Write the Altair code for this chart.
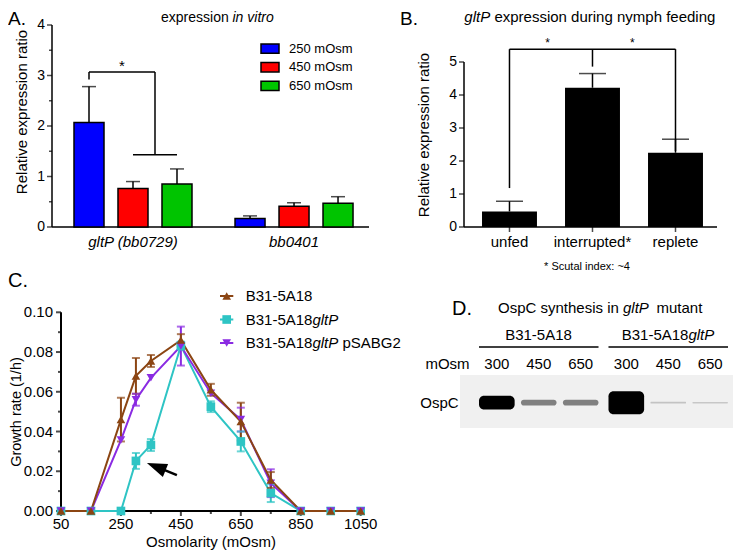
import json
import altair as alt
import pandas as pd

FONT = "Liberation Sans"
W, H = 725, 542
M = 8


def P(v):
    return v - M


# ---------------- Panel A data ----------------
genes_A = ["gltP (bb0729)", "bb0401"]
conds_A = ["250 mOsm", "450 mOsm", "650 mOsm"]
colors_A = ["#0000ff", "#ff0000", "#00c400"]
mean_A_gltP = [2.07, 0.76, 0.85]
sem_A_gltP = [0.71, 0.14, 0.30]
mean_A_bb0401 = [0.17, 0.41, 0.47]
sem_A_bb0401 = [0.05, 0.07, 0.13]
ticks_A = [0, 1, 2, 3, 4]
minor_A = [0.5, 1.5, 2.5, 3.5]
brA_x1 = [0, 0, 1.5, 1]
brA_y1 = [2.92, 3.07, 3.07, 1.43]
brA_x2 = [0, 1.5, 1.5, 2]
brA_y2 = [3.07, 3.07, 1.43, 1.43]
starA_x = [0.75]
starA_y = [3.09]

# ---------------- Panel B data ----------------
cats_B = ["unfed", "interrupted*", "replete"]
mean_B = [0.47, 4.22, 2.25]
sem_B = [0.31, 0.43, 0.41]
ticks_B = [0, 1, 2, 3, 4, 5]
brB_x1 = [0, 0, 1, 2]
brB_y1 = [1.18, 5.39, 5.39, 5.39]
brB_x2 = [0, 2, 1, 2]
brB_y2 = [5.39, 5.39, 4.86, 2.30]
starB_x = [0.46, 1.48]
starB_y = [5.45, 5.45]

# ---------------- Panel C data ----------------
osm_C = [50, 150, 250, 300, 350, 450, 550, 650, 750, 850, 950, 1050]
series_C = ["B31-5A18", "B31-5A18gltP", "B31-5A18gltP pSABG2"]
colors_C = ["#8B4513", "#2EC4C4", "#8A2BE2"]
shapes_C = ["triangle-up", "square", "triangle-down"]
mean_wt = [0, 0, 0.046, 0.068, 0.0755, 0.086, 0.061, 0.045, 0.0156, 0, 0, 0]
sem_wt = [0, 0, 0.011, 0.009, 0.003, 0.003, 0.003, 0.0095, 0.004, 0, 0, 0]
mean_mut = [0, 0, 0, 0.0252, 0.0332, 0.0832, 0.0525, 0.035, 0.009, 0, 0, 0]
sem_mut = [0, 0, 0, 0.004, 0.003, 0.002, 0.0027, 0.005, 0.0045, 0, 0, 0]
mean_comp = [0, 0, 0.0357, 0.056, 0.067, 0.083, 0.0593, 0.046, 0.014, 0, 0, 0]
sem_comp = [0, 0, 0, 0.003, 0, 0.0098, 0, 0.006, 0.007, 0, 0, 0]
xticks_C = [50, 250, 450, 650, 850, 1050]
xminor_C = [150, 350, 550, 750, 950]
yticks_C = [0.0, 0.02, 0.04, 0.06, 0.08, 0.10]
yminor_C = [0.01, 0.03, 0.05, 0.07, 0.09]
arrow_tail = [436.7, 0.0181]
arrow_head = [367.7, 0.0223]

# ---------------- Panel D data ----------------
strains_D = ["B31-5A18", "B31-5A18gltP"]
osm_D = ["300", "450", "650"]
signal_D = [[0.6, 0.25, 0.25], [1.0, 0.08, 0.07]]


# ---------------- helpers: hand-made axes through the panel scales ----------------
def x_axis(xs, ys, lo, hi, y0, major, minor, labels, tlen, mlen, lw, lab_dy, fsize, style="normal"):
    out = [alt.Chart(pd.DataFrame({"a": [lo], "b": [hi], "y": [y0]})).mark_rule(
        color="black", strokeWidth=lw).encode(
        x=alt.X("a:Q", scale=xs, axis=None), x2="b:Q", y=alt.Y("y:Q", scale=ys, axis=None))]
    if tlen:
        out.append(alt.Chart(pd.DataFrame({"v": major, "y": [y0] * len(major)})).mark_tick(
            orient="vertical", size=tlen, thickness=lw, color="black", yOffset=tlen / 2).encode(
            x=alt.X("v:Q", scale=xs, axis=None), y=alt.Y("y:Q", scale=ys, axis=None)))
    if minor:
        out.append(alt.Chart(pd.DataFrame({"v": minor, "y": [y0] * len(minor)})).mark_tick(
            orient="vertical", size=mlen, thickness=lw, color="black", yOffset=mlen / 2).encode(
            x=alt.X("v:Q", scale=xs, axis=None), y=alt.Y("y:Q", scale=ys, axis=None)))
    out.append(alt.Chart(pd.DataFrame({"v": major, "t": labels, "y": [y0] * len(major)})).mark_text(
        font=FONT, fontSize=fsize, fontStyle=style, baseline="alphabetic", dy=lab_dy, color="black").encode(
        x=alt.X("v:Q", scale=xs, axis=None), y=alt.Y("y:Q", scale=ys, axis=None), text="t:N"))
    return out


def y_axis(xs, ys, x0, lo, hi, major, minor, labels, tlen, mlen, lw, lab_dx, fsize):
    out = [alt.Chart(pd.DataFrame({"a": [lo], "b": [hi], "x": [x0]})).mark_rule(
        color="black", strokeWidth=lw).encode(
        y=alt.Y("a:Q", scale=ys, axis=None), y2="b:Q", x=alt.X("x:Q", scale=xs, axis=None))]
    out.append(alt.Chart(pd.DataFrame({"v": major, "x": [x0] * len(major)})).mark_tick(
        orient="horizontal", size=tlen, thickness=lw, color="black", xOffset=-tlen / 2).encode(
        y=alt.Y("v:Q", scale=ys, axis=None), x=alt.X("x:Q", scale=xs, axis=None)))
    if minor:
        out.append(alt.Chart(pd.DataFrame({"v": minor, "x": [x0] * len(minor)})).mark_tick(
            orient="horizontal", size=mlen, thickness=lw, color="black", xOffset=-mlen / 2).encode(
            y=alt.Y("v:Q", scale=ys, axis=None), x=alt.X("x:Q", scale=xs, axis=None)))
    out.append(alt.Chart(pd.DataFrame({"v": major, "t": labels, "x": [x0] * len(major)})).mark_text(
        font=FONT, fontSize=fsize, align="right", baseline="middle", dx=lab_dx, color="black").encode(
        y=alt.Y("v:Q", scale=ys, axis=None), x=alt.X("x:Q", scale=xs, axis=None), text="t:N"))
    return out


def T(s, x, y, size=15, align="left", style="normal", angle=0, baseline="alphabetic"):
    return alt.Chart(pd.DataFrame({"t": [s]})).mark_text(
        font=FONT, fontSize=size, align=align, baseline=baseline, fontStyle=style, color="black",
        angle=angle).encode(text="t:N", x=alt.value(P(x)), y=alt.value(P(y)))


# ================= Panel A =================
GROUP_A = 3.66
rowsA = []
for gi, (g, ms, ss) in enumerate(zip(genes_A, [mean_A_gltP, mean_A_bb0401], [sem_A_gltP, sem_A_bb0401])):
    for ci, c in enumerate(conds_A):
        rowsA.append(dict(gene=g, cond=c, gi=gi, ci=ci, mean=ms[ci], sem=ss[ci]))
dfA = pd.DataFrame(rowsA)

XA_MIN, XA_MAX = -0.841, 6.364
xA = alt.Scale(domain=[XA_MIN, XA_MAX], range=[P(52), P(369)], nice=False, zero=False)
yA = alt.Scale(domain=[0, 4], range=[P(227), P(25)], nice=False, zero=False)

baseA = alt.Chart(dfA).transform_calculate(
    slot=f"datum.gi * {GROUP_A} + datum.ci"
).transform_calculate(lo="datum.slot - 0.341", hi="datum.slot + 0.341", top="datum.mean + datum.sem")

barsA = baseA.mark_rect(stroke="black", strokeWidth=1.5).encode(
    x=alt.X("lo:Q", scale=xA, axis=None), x2="hi:Q",
    y=alt.Y("mean:Q", scale=yA, axis=None), y2=alt.datum(0),
    color=alt.Color("cond:N", scale=alt.Scale(domain=conds_A, range=colors_A), legend=None),
)
errA = baseA.mark_rule(color="black", strokeWidth=1.5).encode(
    x=alt.X("slot:Q", scale=xA, axis=None), y=alt.Y("mean:Q", scale=yA, axis=None), y2="top:Q")
capA = baseA.mark_tick(orient="horizontal", size=14, thickness=1.5, color="black").encode(
    x=alt.X("slot:Q", scale=xA, axis=None), y=alt.Y("top:Q", scale=yA, axis=None))
brA = alt.Chart(pd.DataFrame(dict(x1=brA_x1, y1=brA_y1, x2=brA_x2, y2=brA_y2))).mark_rule(
    color="black", strokeWidth=1.5).encode(
    x=alt.X("x1:Q", scale=xA, axis=None), x2="x2:Q",
    y=alt.Y("y1:Q", scale=yA, axis=None), y2="y2:Q")
stA = alt.Chart(pd.DataFrame(dict(x=starA_x, y=starA_y, t=["*"] * len(starA_x)))).mark_text(
    font=FONT, fontSize=15, baseline="alphabetic").encode(
    x=alt.X("x:Q", scale=xA, axis=None), y=alt.Y("y:Q", scale=yA, axis=None), text="t:N")
gene_pos = [gi * GROUP_A + 1 for gi in range(len(genes_A))]
axesA = (x_axis(xA, yA, XA_MIN, XA_MAX, 0, gene_pos, [], genes_A, 0, 0, 1.5, 20, 15, style="italic")
         + y_axis(xA, yA, XA_MIN, 0, 4, ticks_A, minor_A, [str(v) for v in ticks_A], 5, 3, 1.5, -7, 14))
panelA = alt.layer(*axesA, barsA, errA, capA, brA, stA)

legA_y = alt.Scale(type="band", domain=conds_A, range=[P(44), P(90.5)], paddingInner=0.5, paddingOuter=0)
dfLegA = pd.DataFrame({"cond": conds_A})
legA = alt.layer(
    alt.Chart(dfLegA).mark_rect(stroke="black", strokeWidth=1.5).encode(
        x=alt.value(P(261)), x2=alt.value(P(279)),
        y=alt.Y("cond:N", scale=legA_y, axis=None),
        color=alt.Color("cond:N", scale=alt.Scale(domain=conds_A, range=colors_A), legend=None)),
    alt.Chart(dfLegA).mark_text(font=FONT, fontSize=13, align="left", baseline="middle").encode(
        x=alt.value(P(289)), y=alt.Y("cond:N", scale=legA_y, axis=None), text="cond:N"),
)

# ================= Panel B =================
dfB = pd.DataFrame(dict(cat=cats_B, idx=list(range(len(cats_B))), mean=mean_B, sem=sem_B))
XB_MIN, XB_MAX = -0.548, 2.5
xB = alt.Scale(domain=[XB_MIN, XB_MAX], range=[P(464), P(717)], nice=False, zero=False)
yB = alt.Scale(domain=[0, 5], range=[P(227), P(62)], nice=False, zero=False)
baseB = alt.Chart(dfB).transform_calculate(lo="datum.idx - 0.331", hi="datum.idx + 0.331",
                                           top="datum.mean + datum.sem")
barsB = baseB.mark_rect(color="black").encode(
    x=alt.X("lo:Q", scale=xB, axis=None), x2="hi:Q",
    y=alt.Y("mean:Q", scale=yB, axis=None), y2=alt.datum(0))
errB = baseB.mark_rule(color="black", strokeWidth=1.5).encode(
    x=alt.X("idx:Q", scale=xB, axis=None), y=alt.Y("mean:Q", scale=yB, axis=None), y2="top:Q")
capB = baseB.mark_tick(orient="horizontal", size=27, thickness=1.5, color="black").encode(
    x=alt.X("idx:Q", scale=xB, axis=None), y=alt.Y("top:Q", scale=yB, axis=None))
brB = alt.Chart(pd.DataFrame(dict(x1=brB_x1, y1=brB_y1, x2=brB_x2, y2=brB_y2))).mark_rule(
    color="black", strokeWidth=1.5).encode(
    x=alt.X("x1:Q", scale=xB, axis=None), x2="x2:Q",
    y=alt.Y("y1:Q", scale=yB, axis=None), y2="y2:Q")
stB = alt.Chart(pd.DataFrame(dict(x=starB_x, y=starB_y, t=["*"] * len(starB_x)))).mark_text(
    font=FONT, fontSize=12, baseline="alphabetic").encode(
    x=alt.X("x:Q", scale=xB, axis=None), y=alt.Y("y:Q", scale=yB, axis=None), text="t:N")
axesB = (x_axis(xB, yB, XB_MIN, XB_MAX, 0, list(range(len(cats_B))), [], cats_B, 5, 0, 1.5, 20, 15)
         + y_axis(xB, yB, XB_MIN, 0, 5, ticks_B, [], [str(v) for v in ticks_B], 5, 0, 1.5, -7, 14))
panelB = alt.layer(*axesB, barsB, errB, capB, brB, stB)

# ================= Panel C =================
rowsC = []
for s, ms, ss in [(series_C[1], mean_mut, sem_mut), (series_C[2], mean_comp, sem_comp),
                  (series_C[0], mean_wt, sem_wt)]:
    for o, m, e in zip(osm_C, ms, ss):
        rowsC.append(dict(series=s, osm=o, mean=m, sem=e))
dfC = pd.DataFrame(rowsC)
xC = alt.Scale(domain=[50, 1050], range=[P(61), P(360.7)], nice=False, zero=False)
yC = alt.Scale(domain=[0, 0.1], range=[P(511), P(312.3)], nice=False, zero=False)
colC = alt.Scale(domain=series_C, range=colors_C)
shpC = alt.Scale(domain=series_C, range=shapes_C)
linesC = alt.Chart(dfC).mark_line(strokeWidth=2).encode(
    x=alt.X("osm:Q", scale=xC, axis=None), y=alt.Y("mean:Q", scale=yC, axis=None),
    color=alt.Color("series:N", scale=colC, legend=None))
errBase = alt.Chart(dfC).transform_filter("datum.sem > 0").transform_calculate(
    lo="datum.mean - datum.sem", hi="datum.mean + datum.sem")
errC = errBase.mark_rule(strokeWidth=2).encode(
    x=alt.X("osm:Q", scale=xC, axis=None), y=alt.Y("lo:Q", scale=yC, axis=None), y2="hi:Q",
    color=alt.Color("series:N", scale=colC, legend=None))
capC1 = errBase.mark_tick(orient="horizontal", size=8, thickness=2).encode(
    x=alt.X("osm:Q", scale=xC, axis=None), y=alt.Y("lo:Q", scale=yC, axis=None),
    color=alt.Color("series:N", scale=colC, legend=None))
capC2 = errBase.mark_tick(orient="horizontal", size=8, thickness=2).encode(
    x=alt.X("osm:Q", scale=xC, axis=None), y=alt.Y("hi:Q", scale=yC, axis=None),
    color=alt.Color("series:N", scale=colC, legend=None))
ptsC = alt.Chart(dfC).mark_point(filled=True, size=75, opacity=1).encode(
    x=alt.X("osm:Q", scale=xC, axis=None), y=alt.Y("mean:Q", scale=yC, axis=None),
    color=alt.Color("series:N", scale=colC, legend=None),
    shape=alt.Shape("series:N", scale=shpC, legend=None))
dfArrow = pd.DataFrame(dict(x=[arrow_tail[0]], y=[arrow_tail[1]], hx=[arrow_head[0]], hy=[arrow_head[1]]))
arrowShaft = alt.Chart(dfArrow).mark_rule(color="black", strokeWidth=2.5).encode(
    x=alt.X("x:Q", scale=xC, axis=None), x2="hx:Q",
    y=alt.Y("y:Q", scale=yC, axis=None), y2="hy:Q")
arrowHead = alt.Chart(dfArrow).mark_point(shape="M0,-1L0.7,1L-0.7,1Z", size=400, filled=True,
                                          color="black", opacity=1, angle=292).encode(
    x=alt.X("hx:Q", scale=xC, axis=None), y=alt.Y("hy:Q", scale=yC, axis=None))
axesC = (x_axis(xC, yC, 50, 1050, 0, xticks_C, xminor_C, [str(v) for v in xticks_C], 5, 3, 2, 17.5, 15)
         + y_axis(xC, yC, 50, 0, 0.1, yticks_C, yminor_C, ["%.2f" % v for v in yticks_C], 5, 3, 2, -8, 15))
panelC = alt.layer(*axesC, linesC, errC, capC1, capC2, ptsC, arrowShaft, arrowHead)

legC_y = alt.Scale(type="point", domain=series_C, range=[P(296), P(343)], padding=0)
dfLegC = pd.DataFrame({"series": series_C})
legBase = alt.Chart(dfLegC).transform_calculate(
    p1="replace(datum.series, /gltP.*/, '')",
    p2="test(/gltP/, datum.series) ? 'gltP' : ''",
    p3="test(/gltP./, datum.series) ? replace(datum.series, /^.*gltP /, '') : ''",
)
legC = alt.layer(
    legBase.mark_rule(strokeWidth=2).encode(
        x=alt.value(P(220)), x2=alt.value(P(233.3)), y=alt.Y("series:N", scale=legC_y, axis=None),
        color=alt.Color("series:N", scale=colC, legend=None)),
    legBase.mark_point(filled=True, size=75, opacity=1).encode(
        x=alt.value(P(226.7)), y=alt.Y("series:N", scale=legC_y, axis=None),
        color=alt.Color("series:N", scale=colC, legend=None),
        shape=alt.Shape("series:N", scale=shpC, legend=None)),
    legBase.mark_text(font=FONT, fontSize=15, align="left", baseline="middle").encode(
        x=alt.value(P(245.7)), y=alt.Y("series:N", scale=legC_y, axis=None), text="p1:N"),
    legBase.mark_text(font=FONT, fontSize=15, align="left", baseline="middle", fontStyle="italic").encode(
        x=alt.value(P(312.4)), y=alt.Y("series:N", scale=legC_y, axis=None), text="p2:N"),
    legBase.mark_text(font=FONT, fontSize=15, align="left", baseline="middle").encode(
        x=alt.value(P(342.4)), y=alt.Y("series:N", scale=legC_y, axis=None), text="p3:N"),
)

# ================= Panel D =================
rowsD = []
for s, sigs in zip(strains_D, signal_D):
    for o, v in zip(osm_D, sigs):
        rowsD.append(dict(strain=s, osm=o, signal=v))
dfD = pd.DataFrame(rowsD)
xD = alt.Scale(type="band", domain=strains_D, range=[P(479), P(728)], paddingInner=0.077, paddingOuter=0)
xoD = alt.Scale(type="band", domain=osm_D, paddingInner=0.15, paddingOuter=0)
yD = alt.Scale(domain=[-1, 1], range=[P(414.2), P(391.2)], nice=False, zero=False)
blot = alt.Chart(pd.DataFrame({"a": [0]})).mark_rect(color="#f0f0f0").encode(
    x=alt.value(P(460)), x2=alt.value(W), y=alt.value(P(375)), y2=alt.value(P(428)))
bandsD = alt.Chart(dfD).transform_calculate(lo="-datum.signal", hi="datum.signal").mark_bar(
    cornerRadius=5).encode(
    x=alt.X("strain:N", scale=xD, axis=None), xOffset=alt.XOffset("osm:N", scale=xoD),
    y=alt.Y("lo:Q", scale=yD, axis=None), y2="hi:Q",
    color=alt.Color("signal:Q", scale=alt.Scale(domain=[0, 0.25, 0.55],
                                                range=["#e4e4e4", "#808080", "#000000"], clamp=True),
                    legend=None))
laneLab = alt.Chart(dfD).mark_text(font=FONT, fontSize=15, baseline="alphabetic").encode(
    x=alt.X("strain:N", scale=xD, axis=None), xOffset=alt.XOffset("osm:N", scale=xoD),
    y=alt.value(P(369)), text="osm:N")
headRule = alt.Chart(pd.DataFrame({"strain": strains_D})).mark_bar(color="black").encode(
    x=alt.X("strain:N", scale=xD, axis=None), y=alt.value(P(346.3)), y2=alt.value(P(347.8)))
panelD = alt.layer(blot, bandsD, laneLab, headRule)

texts = [
    T("A.", 8, 25, 19),
    T("expression", 161, 22, 14),
    T("in vitro", 232.5, 22, 14, style="italic"),
    T("Relative expression ratio", 21.5, 112, 15, align="center", angle=270, baseline="middle"),
    T("B.", 400, 25, 19),
    T("gltP", 464.3, 22, 15, style="italic"),
    T("expression during nymph feeding", 494.4, 22, 15),
    T("Relative expression ratio", 424, 135, 15, align="center", angle=270, baseline="middle"),
    T("* Scutal index: ~4", 587, 270, 11, align="center"),
    T("C.", 8, 287, 20),
    T("Growth rate (1/h)", 16.5, 412, 14.5, align="center", angle=270, baseline="middle"),
    T("Osmolarity (mOsm)", 211, 546.5, 15, align="center"),
    T("D.", 452, 315, 20),
    T("OspC synthesis in", 498, 313, 15),
    T("gltP", 623, 313, 15, style="italic"),
    T("mutant", 656.5, 313, 15),
    T("B31-5A18", 538.5, 340, 15, align="center"),
    T("B31-5A18", 621.7, 340, 15),
    T("gltP", 688.4, 340, 15, style="italic"),
    T("mOsm", 447.5, 369, 15, align="center"),
    T("OspC", 439.5, 408, 15, align="center"),
]

chart = alt.layer(panelD, panelA, legA, panelB, panelC, legC, *texts).resolve_scale(
    x="independent", y="independent", color="independent", shape="independent"
).properties(
    width=W, height=H, padding=0, autosize=alt.AutoSizeParams(type="none")
).configure(font=FONT).configure_view(stroke=None)

chart.save("out.html", embed_options={"renderer": "svg", "actions": False})
